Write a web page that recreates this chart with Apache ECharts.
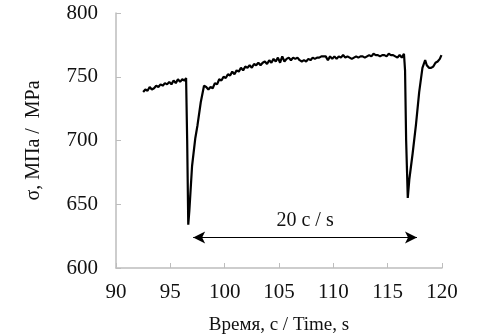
<!DOCTYPE html>
<html>
<head>
<meta charset="utf-8">
<script src="https://cdn.jsdelivr.net/npm/echarts@6/dist/echarts.min.js"></script>
<style>
html,body{margin:0;padding:0;background:#fff;}
#main{width:477px;height:335px;}
</style>
</head>
<body>
<div id="main"></div>
<script>
// время, с / напряжение, МПа
var time = [
  92.5, 92.7, 92.9, 93.1, 93.3, 93.5, 93.7, 93.9, 94.1, 94.3, 94.5, 94.7, 94.9, 95.1, 95.3, 95.5, 95.7, 95.9, 96.1, 96.3, 96.45,
  96.55, 96.65, 96.75, 97.0, 97.3, 97.5, 97.8, 98.1, 98.3, 98.5, 98.7, 98.9, 99.1, 99.3, 99.5, 99.7, 99.9,
  100.1, 100.3, 100.5, 100.7, 100.9, 101.1, 101.3, 101.5, 101.7, 101.9, 102.1, 102.3, 102.5, 102.7, 102.9,
  103.1, 103.3, 103.5, 103.7, 103.9, 104.1, 104.3, 104.5, 104.7, 104.9, 105.1, 105.3, 105.5, 105.7, 105.9,
  106.1, 106.3, 106.5, 106.7, 106.9, 107.1, 107.3, 107.5, 107.7, 107.9, 108.1, 108.3, 108.5, 108.7, 108.9,
  109.1, 109.3, 109.5, 109.7, 109.9, 110.1, 110.3, 110.5, 110.7, 110.9, 111.1, 111.3, 111.5, 111.7, 111.9,
  112.1, 112.3, 112.5, 112.7, 112.9, 113.1, 113.3, 113.5, 113.7, 113.9, 114.1, 114.3, 114.5, 114.7, 114.9,
  115.1, 115.3, 115.5, 115.7, 115.9, 116.1, 116.3, 116.5, 116.6, 116.7, 116.85, 117.0, 117.3, 117.6, 117.9,
  118.2, 118.45, 118.6, 118.8, 119.0, 119.2, 119.4, 119.6, 119.8, 119.95
];
var stress = [
  738, 740, 739, 742, 740, 741, 743, 742, 744, 743, 745, 744, 746, 744, 747, 745, 748, 746, 748, 747, 749,
  700, 634, 645, 680, 702, 712, 730, 743, 742, 740, 742, 741, 745, 744, 748, 747, 750,
  749, 752, 751, 754, 752, 755, 754, 757, 755, 758, 757, 759, 757, 760, 759,
  761, 759, 761, 762, 760, 763, 761, 764, 762, 765, 761, 766, 762, 764, 765,
  763, 765, 764, 765, 763, 762, 763, 762, 764, 763, 765, 764, 765, 765, 766,
  766, 766, 763, 766, 764, 766, 764, 766, 765, 767, 765, 766, 765, 764, 765,
  766, 765, 766, 766, 765, 766, 767, 766, 768, 767, 767, 766, 767, 767, 766,
  768, 767, 767, 766, 765, 767, 765, 768, 755, 700, 655, 670, 690, 712, 738,
  757, 763, 759, 757, 757, 758, 761, 762, 764, 767
];
var xTicks = [90, 95, 100, 105, 110, 115, 120];
var yTicks = [600, 650, 700, 750, 800];
var arrowFrom = [97.1, 624];
var arrowTo = [117.7, 624];
var arrowText = '20 c / s';

var points = time.map(function (t, i) { return [t, stress[i]]; });
var serif = '"Liberation Serif", "Times New Roman", serif';

var chart = echarts.init(document.getElementById('main'));
var option = {
  backgroundColor: '#fff',
  animation: false,
  grid: { left: 116, right: 35, top: 13, bottom: 67, outerBoundsMode: 'none' },
  xAxis: {
    type: 'value',
    min: xTicks[0], max: xTicks[xTicks.length - 1], interval: 5,
    name: 'Время, с / Time, s',
    nameLocation: 'middle', nameGap: 48,
    nameTextStyle: { fontFamily: serif, fontSize: 19, color: '#111' },
    axisLine: { lineStyle: { color: '#bdbdbd', width: 1.5 } },
    axisTick: { inside: true, length: 5, lineStyle: { color: '#bdbdbd' } },
    axisLabel: { fontFamily: serif, fontSize: 21, color: '#111', margin: 14 },
    splitLine: { show: false }
  },
  yAxis: {
    type: 'value',
    min: yTicks[0], max: yTicks[yTicks.length - 1], interval: 50,
    name: 'σ, МПа /  МPa',
    nameLocation: 'middle', nameGap: 72,
    nameTextStyle: { fontFamily: serif, fontSize: 20, color: '#111' },
    axisLine: { show: true, lineStyle: { color: '#bdbdbd', width: 1.5 } },
    axisTick: { show: true, inside: true, length: 5, lineStyle: { color: '#bdbdbd' } },
    axisLabel: { fontFamily: serif, fontSize: 21, color: '#111', margin: 18 },
    splitLine: { show: false }
  },
  series: [
    {
      type: 'line',
      data: points,
      showSymbol: false,
      lineStyle: { color: '#000', width: 2.2 },
      markLine: {
        silent: true,
        symbol: ['arrow', 'arrow'],
        symbolSize: [9, 12],
        lineStyle: { color: '#000', width: 1, type: 'solid' },
        label: {
          show: true, position: 'middle', formatter: arrowText,
          fontFamily: serif, fontSize: 20, color: '#111', distance: 7
        },
        data: [[{ coord: arrowFrom }, { coord: arrowTo }]]
      }
    }
  ]
};
chart.setOption(option);
</script>
</body>
</html>
